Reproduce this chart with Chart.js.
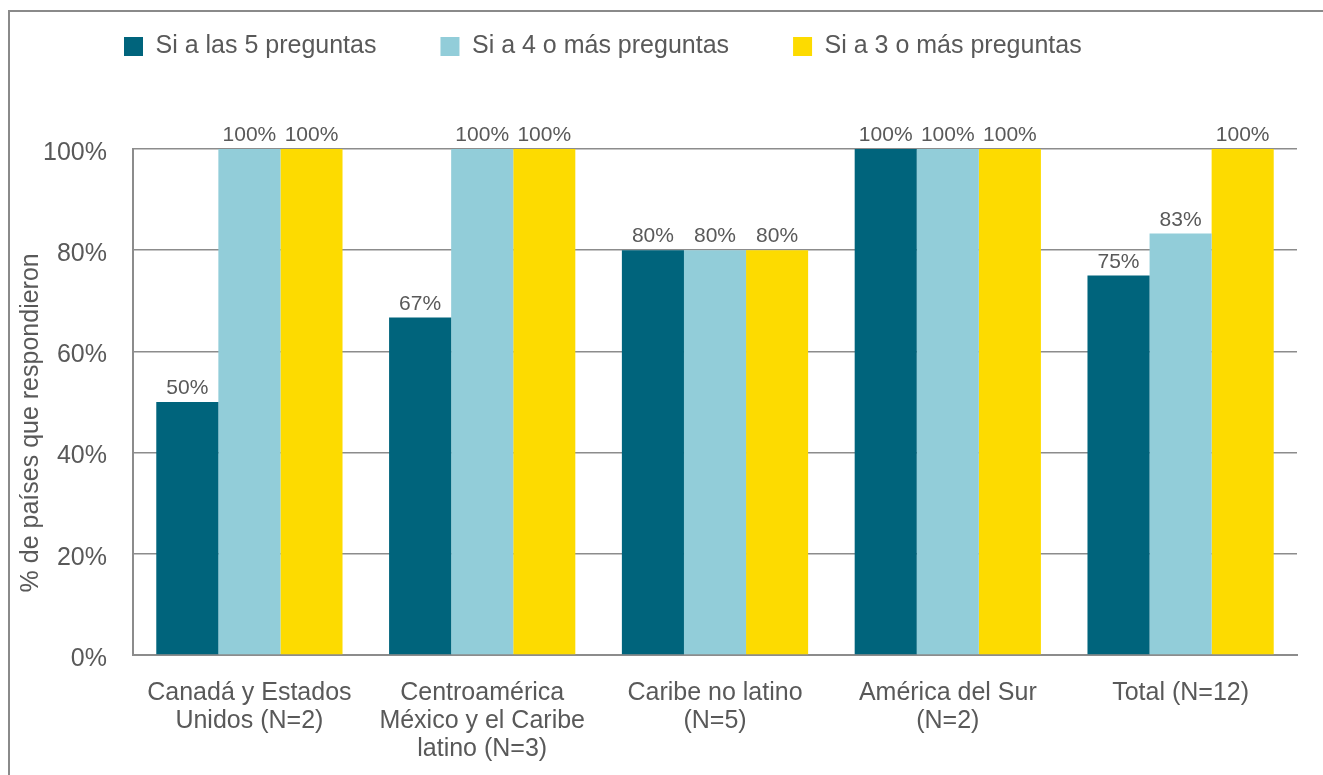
<!DOCTYPE html>
<html lang="es">
<head>
    <meta charset="UTF-8">
    <title>Países que respondieron</title>
    <script src="https://cdn.jsdelivr.net/npm/chart.js"></script>
    <style>
        html, body { margin: 0; padding: 0; background: #fff; overflow: hidden; }
        #frame {
            position: absolute; left: 8px; top: 10px;
            width: 1400px; height: 800px;
            border-left: 2px solid #8a8a8a; border-top: 2px solid #8a8a8a;
        }
        #wrap { position: absolute; left: 0; top: 0; width: 1323px; height: 775px; }
    </style>
</head>
<body>
<div id="frame"></div>
<div id="wrap"><canvas id="chart"></canvas></div>

<script>
    // Categories (multi-line labels)
    const categories = [
        ['Canadá y Estados', 'Unidos (N=2)'],
        ['Centroamérica', 'México y el Caribe', 'latino (N=3)'],
        ['Caribe no latino', '(N=5)'],
        ['América del Sur', '(N=2)'],
        ['Total (N=12)']
    ];

    // Series values (%)
    const si5 = [50, 66.7, 80, 100, 75];
    const si4 = [100, 100, 80, 100, 83.3];
    const si3 = [100, 100, 80, 100, 100];

    const seriesNames = ['Si a las 5 preguntas', 'Si a 4 o más preguntas', 'Si a 3 o más preguntas'];
    const yTicks = [0, 20, 40, 60, 80, 100];

    const textColor = '#595959';
    const lineColor = '#8c8c8c';
    const fontFamily = "'Liberation Sans', Arial, sans-serif";

    // draws the value above each bar
    const barLabels = {
        id: 'barLabels',
        afterDatasetsDraw(chart) {
            const ctx = chart.ctx;
            ctx.save();
            ctx.font = '21px ' + fontFamily;
            ctx.fillStyle = textColor;
            ctx.textAlign = 'center';
            ctx.textBaseline = 'bottom';
            chart.data.datasets.forEach((ds, i) => {
                chart.getDatasetMeta(i).data.forEach((bar, j) => {
                    ctx.fillText(Math.round(ds.data[j]) + '%', bar.x, bar.y - 3);
                });
            });
            ctx.restore();
        }
    };

    // legend sits higher and further right than Chart.js would put it
    const moveLegend = {
        id: 'moveLegend',
        afterLayout(chart) {
            chart.legend.top = -30;
            chart.legend.left = 60;
        }
    };

    new Chart(document.getElementById('chart'), {
        type: 'bar',
        data: {
            labels: categories,
            datasets: [
                { label: seriesNames[0], data: si5, backgroundColor: '#00647C' },
                { label: seriesNames[1], data: si4, backgroundColor: '#92CDD9' },
                { label: seriesNames[2], data: si3, backgroundColor: '#FDDB00' }
            ]
        },
        options: {
            responsive: true,
            maintainAspectRatio: false,
            animation: false,
            categoryPercentage: 0.8,
            barPercentage: 1.0,
            layout: { padding: { left: 0, right: 26, top: 50, bottom: 0 } },
            plugins: {
                legend: {
                    position: 'top',
                    align: 'start',
                    labels: {
                        boxWidth: 19,
                        boxHeight: 19,
                        padding: 64,
                        color: textColor,
                        font: { family: fontFamily, size: 25 }
                    }
                },
                tooltip: { enabled: false }
            },
            scales: {
                x: {
                    grid: { display: false },
                    border: { display: true, color: lineColor, width: 2 },
                    ticks: {
                        color: textColor,
                        padding: 16,
                        maxRotation: 0,
                        autoSkip: false,
                        font: { family: fontFamily, size: 25, lineHeight: 1.12 }
                    },
                    afterFit(scale) { scale.height = 120; }
                },
                y: {
                    min: 0,
                    max: 100,
                    afterBuildTicks(scale) { scale.ticks = yTicks.map(v => ({ value: v })); },
                    grid: { color: lineColor, lineWidth: 1.5, drawTicks: false },
                    border: { display: true, color: lineColor, width: 2 },
                    ticks: {
                        color: textColor,
                        padding: 26,
                        labelOffset: 4,
                        font: { family: fontFamily, size: 25 },
                        callback: v => v + '%'
                    },
                    title: {
                        display: true,
                        text: '% de países que respondieron      ',
                        color: textColor,
                        padding: { top: 16, bottom: 0 },
                        font: { family: fontFamily, size: 25 }
                    },
                    afterFit(scale) { scale.width = 133; }
                }
            }
        },
        plugins: [barLabels, moveLegend]
    });
</script>
</body>
</html>
